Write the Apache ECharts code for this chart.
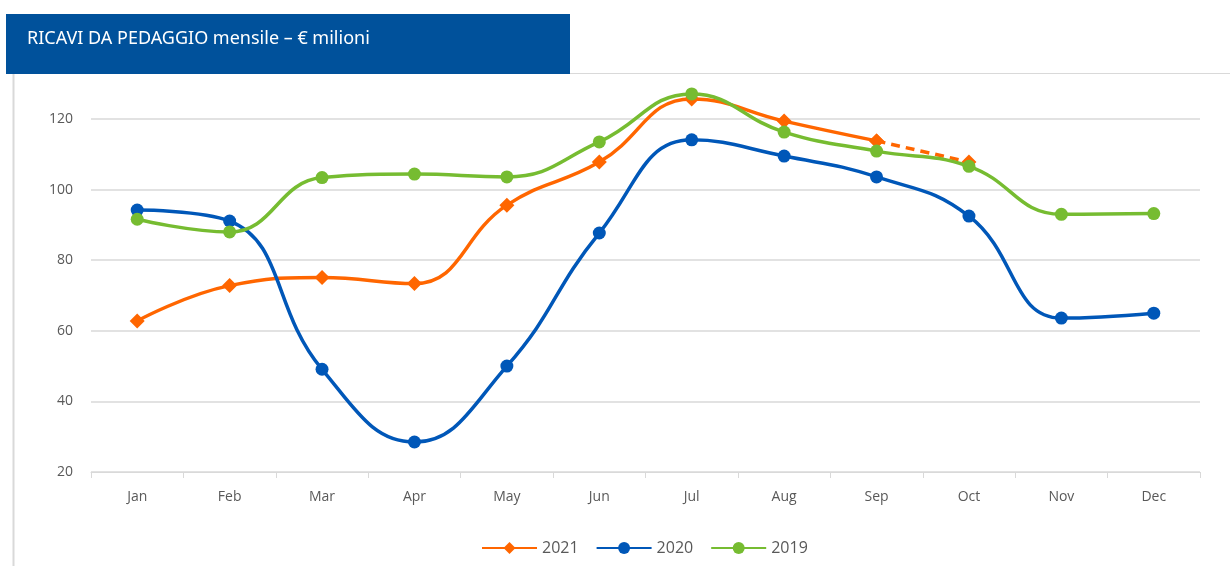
<!DOCTYPE html>
<html>
<head>
<meta charset="utf-8">
<script src="https://cdn.jsdelivr.net/npm/echarts@6/dist/echarts.min.js"></script>
<style>
html,body{margin:0;padding:0;background:#fff;}
#chart{width:1230px;height:566px;}
</style>
</head>
<body>
<div id="chart"></div>
<script>
var titleText = 'RICAVI DA PEDAGGIO mensile – € milioni';
var months = ['Jan','Feb','Mar','Apr','May','Jun','Jul','Aug','Sep','Oct','Nov','Dec'];
var v2021 = [62.8, 72.8, 75.1, 73.4, 95.6, 107.8, 125.7, 119.4, 113.8, null, null, null];
var v2021Projected = [null, null, null, null, null, null, null, null, 113.8, 107.8, null, null];
var v2020 = [94.2, 91.1, 49.1, 28.5, 50.0, 87.7, 114.1, 109.5, 103.6, 92.5, 63.6, 65.0];
var v2019 = [91.6, 88.0, 103.4, 104.4, 103.6, 113.5, 127.1, 116.3, 110.9, 106.6, 93.0, 93.2];
var yTicks = [20, 40, 60, 80, 100, 120];

var C21 = '#FF6600', C20 = '#0057B8', C19 = '#76BC31';
var chart = echarts.init(document.getElementById('chart'));
var smoothVal = 0.45;
function lineSeries(name, data, color, symbol, size, extra){
  var s = {
    name: name, type: 'line', data: data, smooth: smoothVal, clip: false,
    symbol: symbol, symbolSize: size, showSymbol: true,
    lineStyle: {color: color, width: 3.5},
    itemStyle: {color: color},
    emphasis: {disabled: true}
  };
  for (var k in extra) s[k] = extra[k];
  return s;
}
chart.setOption({
  animation: false,
  graphic: [
    {type:'rect', shape:{x:6, y:14, width:564, height:60}, style:{fill:'#00519B'}},
    {type:'text', x:27, y:39, style:{text:titleText, fill:'#ffffff', font:'18px "Noto Sans"', textVerticalAlign:'middle'}},
    {type:'line', shape:{x1:570, y1:73.5, x2:1230, y2:73.5}, style:{stroke:'#D9D9D9', lineWidth:1}},
    {type:'line', shape:{x1:13.5, y1:74, x2:13.5, y2:566}, style:{stroke:'#D9D9D9', lineWidth:2}}
  ],
  grid: {left: 91, right: 30, top: 119, bottom: 94},
  legend: {
    data: ['2021','2020','2019'],
    bottom: 5, left: 476,
    itemWidth: 55, itemHeight: 15, itemGap: 17,
    textStyle: {color: '#595959', fontSize: 16, fontFamily: 'Open Sans'}
  },
  xAxis: {
    type: 'category', data: months, boundaryGap: true,
    axisLine: {lineStyle: {color: '#D9D9D9'}},
    axisTick: {show: true, length: 6, lineStyle: {color: '#D9D9D9'}},
    axisLabel: {color: '#595959', fontSize: 14, fontFamily: 'Open Sans', margin: 18}
  },
  yAxis: {
    type: 'value', min: 20, max: 120, interval: 20,
    axisLine: {show: false}, axisTick: {show: false},
    splitLine: {lineStyle: {color: '#D9D9D9', width: 1.5}},
    axisLabel: {color: '#595959', fontSize: 14, fontFamily: 'Open Sans', margin: 18,
      formatter: function(v){ return yTicks.indexOf(v) >= 0 ? String(v) : ''; }}
  },
  series: [
    lineSeries('2021', v2021, C21, 'diamond', 15, {z: 3}),
    lineSeries('2020', v2020, C20, 'circle', 13, {z: 4}),
    lineSeries('2019', v2019, C19, 'circle', 13, {z: 5}),
    lineSeries('2021', v2021Projected, C21, 'diamond', 15, {z: 2, lineStyle: {color: C21, width: 3.5, type: [9, 6]}})
  ]
});
</script>
</body>
</html>
